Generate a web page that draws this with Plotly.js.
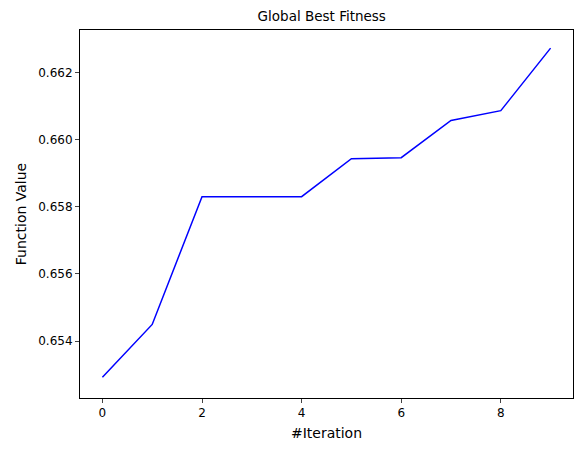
<!DOCTYPE html>
<html>
<head>
<script src="https://cdn.plot.ly/plotly-3.0.1.min.js"></script>
<style>body{margin:0}</style>
</head>
<body>
<div id="chart" style="width:585px;height:453px"></div>
<script>
const iterations = [0, 1, 2, 3, 4, 5, 6, 7, 8, 9];
const fitness = [0.65293, 0.65450, 0.65830, 0.65830, 0.65830, 0.65943, 0.65946, 0.66057, 0.66086, 0.66272];

Plotly.newPlot("chart", [{
    x: iterations,
    y: fitness,
    type: "scatter",
    mode: "lines",
    line: {color: "blue", width: 1.5}
}], {
    width: 585, height: 453,
    margin: {l: 80, r: 12, t: 30, b: 55},
    font: {family: "DejaVu Sans", size: 12, color: "black"},
    title: {text: "Global Best Fitness", x: 0.55, y: 0.975, font: {size: 13.5}},
    paper_bgcolor: "white", plot_bgcolor: "white",
    showlegend: false,
    xaxis: {
        title: {text: "#Iteration", standoff: 8},
        range: [-0.45, 9.45], tickvals: [0, 2, 4, 6, 8],
        showgrid: false, zeroline: false, showline: true, mirror: true,
        linecolor: "black", linewidth: 1, ticks: "outside", ticklen: 4
    },
    yaxis: {
        title: {text: "Function Value", standoff: 8},
        range: [0.65231, 0.66326], tickvals: [0.654, 0.656, 0.658, 0.660, 0.662],
        tickformat: ".3f",
        showgrid: false, zeroline: false, showline: true, mirror: true,
        linecolor: "black", linewidth: 1, ticks: "outside", ticklen: 4
    }
}, {displayModeBar: false});
</script>
</body>
</html>
